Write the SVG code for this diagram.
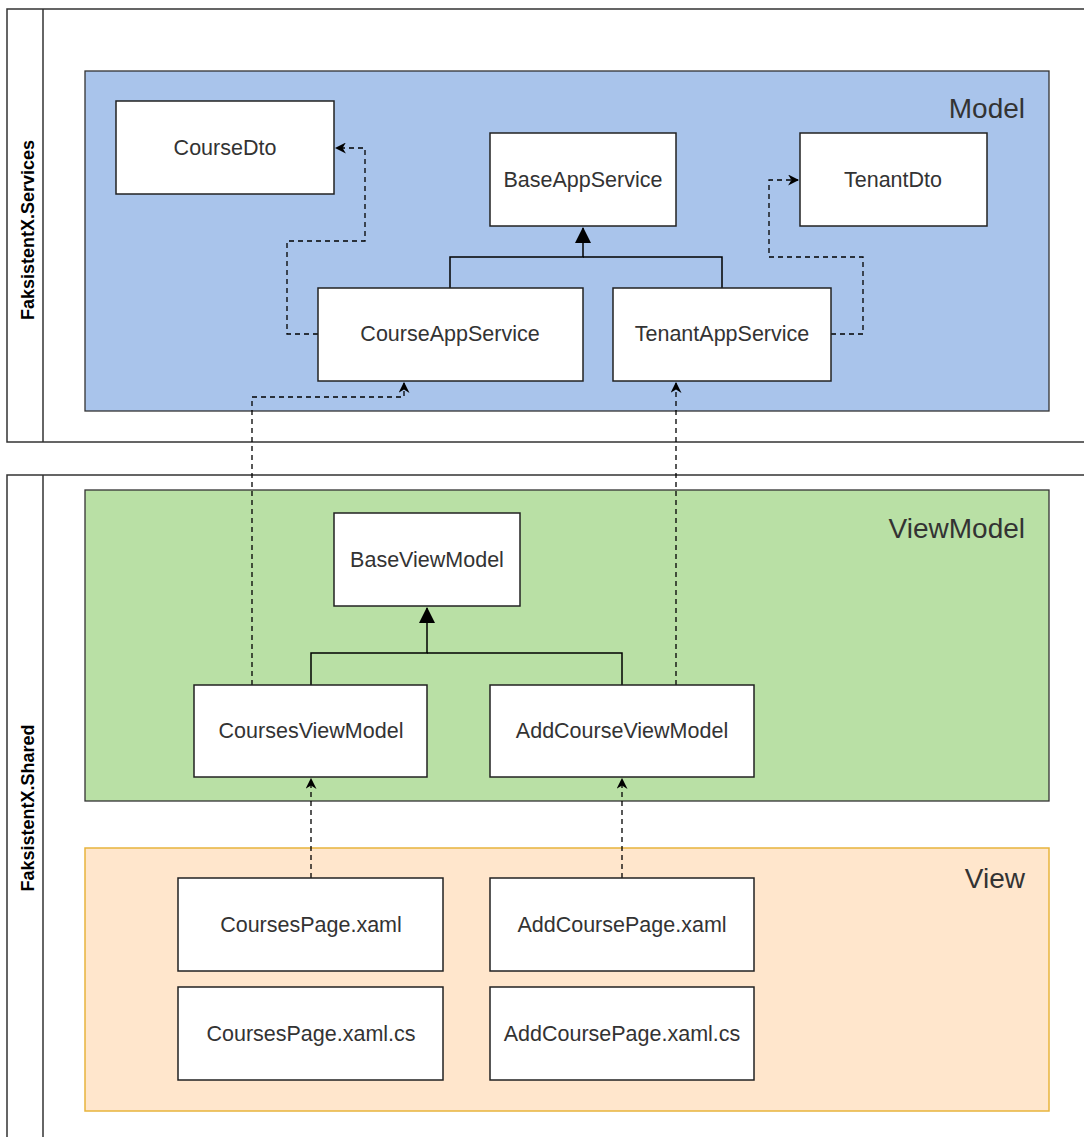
<svg xmlns="http://www.w3.org/2000/svg" width="1084" height="1137" viewBox="0 0 1084 1137">
<style>
.pool{fill:#fff;stroke:#333;stroke-width:1.5}
.node{fill:#fff;stroke:#222;stroke-width:1.5}
.t{font-family:"Liberation Sans",Arial,sans-serif;font-size:21.5px;fill:#333;text-anchor:middle;dominant-baseline:central}
.lbl{font-family:"Liberation Sans",Arial,sans-serif;font-size:28px;fill:#333;text-anchor:end}
.pl{font-family:"Liberation Sans",Arial,sans-serif;font-size:18px;font-weight:bold;fill:#000;text-anchor:middle}
.dash{fill:none;stroke:#000;stroke-width:1.3;stroke-dasharray:5 4;marker-end:url(#open)}
.inh{fill:none;stroke:#000;stroke-width:1.5}
</style>
<defs>
<marker id="open" viewBox="0 0 10 10" refX="9" refY="5" markerWidth="11" markerHeight="11" markerUnits="userSpaceOnUse" orient="auto">
<path d="M0,0 L10,5 L0,10 L3,5 Z" fill="#000"/>
</marker>
<marker id="tri" viewBox="0 0 16 16" refX="15" refY="8" markerWidth="16" markerHeight="16" markerUnits="userSpaceOnUse" orient="auto">
<path d="M0,0 L16,8 L0,16 Z" fill="#000"/>
</marker>
</defs>
<rect width="1084" height="1137" fill="#fff"/>
<g id="pool-services">
<rect class="pool" x="7" y="9" width="1090" height="433"/>
<line x1="43" y1="9" x2="43" y2="442" stroke="#333" stroke-width="1.5"/>
<text class="pl" transform="translate(34,230) rotate(-90)">FaksistentX.Services</text>
</g>
<g id="pool-shared">
<rect class="pool" x="7" y="475" width="1090" height="680"/>
<line x1="43" y1="475" x2="43" y2="1140" stroke="#333" stroke-width="1.5"/>
<text class="pl" transform="translate(34,808) rotate(-90)">FaksistentX.Shared</text>
</g>
<g id="model">
<rect x="85" y="71" width="964" height="340" fill="#A9C4EB" stroke="#333" stroke-width="1.3"/>
<text class="lbl" x="1025" y="118">Model</text>
</g>
<g id="viewmodel">
<rect x="85" y="490" width="964" height="311" fill="#B9E0A5" stroke="#333" stroke-width="1.3"/>
<text class="lbl" x="1025" y="538">ViewModel</text>
</g>
<g id="view">
<rect x="85" y="848" width="964" height="263" fill="#FFE6CC" stroke="#E8B43C" stroke-width="1.5"/>
<text class="lbl" x="1025" y="888">View</text>
</g>
<g id="connectors">
<polyline class="inh" points="450,288 450,257 583,257 583,228" marker-end="url(#tri)"/>
<polyline class="inh" points="722,288 722,257 583,257"/>
<polyline class="inh" points="311,685 311,653 427,653 427,608" marker-end="url(#tri)"/>
<polyline class="inh" points="622,685 622,653 427,653"/>
<polyline class="dash" points="318,334 287,334 287,241 365,241 365,148 336,148"/>
<polyline class="dash" points="831,334 863,334 863,257 769,257 769,180 798,180"/>
<polyline class="dash" points="252,685 252,397 404,397 404,383"/>
<polyline class="dash" points="676,685 676,383"/>
<polyline class="dash" points="311,878 311,779"/>
<polyline class="dash" points="622,878 622,779"/>
</g>
<g id="CourseDto"><rect class="node" x="116" y="101" width="218" height="93"/><text class="t" x="225" y="148">CourseDto</text></g>
<g id="BaseAppService"><rect class="node" x="490" y="133" width="186" height="93"/><text class="t" x="583" y="180">BaseAppService</text></g>
<g id="TenantDto"><rect class="node" x="800" y="133" width="187" height="93"/><text class="t" x="893" y="180">TenantDto</text></g>
<g id="CourseAppService"><rect class="node" x="318" y="288" width="265" height="93"/><text class="t" x="450" y="334">CourseAppService</text></g>
<g id="TenantAppService"><rect class="node" x="613" y="288" width="218" height="93"/><text class="t" x="722" y="334">TenantAppService</text></g>
<g id="BaseViewModel"><rect class="node" x="334" y="513" width="186" height="93"/><text class="t" x="427" y="560">BaseViewModel</text></g>
<g id="CoursesViewModel"><rect class="node" x="194" y="685" width="233" height="92"/><text class="t" x="311" y="731">CoursesViewModel</text></g>
<g id="AddCourseViewModel"><rect class="node" x="490" y="685" width="264" height="92"/><text class="t" x="622" y="731">AddCourseViewModel</text></g>
<g id="CoursesPageXaml"><rect class="node" x="178" y="878" width="265" height="93"/><text class="t" x="311" y="925">CoursesPage.xaml</text></g>
<g id="AddCoursePageXaml"><rect class="node" x="490" y="878" width="264" height="93"/><text class="t" x="622" y="925">AddCoursePage.xaml</text></g>
<g id="CoursesPageXamlCs"><rect class="node" x="178" y="987" width="265" height="93"/><text class="t" x="311" y="1034">CoursesPage.xaml.cs</text></g>
<g id="AddCoursePageXamlCs"><rect class="node" x="490" y="987" width="264" height="93"/><text class="t" x="622" y="1034">AddCoursePage.xaml.cs</text></g>
</svg>
